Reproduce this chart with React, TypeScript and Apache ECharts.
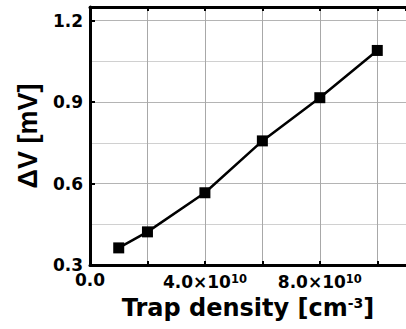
import React, { useEffect, useRef } from "react";
import * as echarts from "echarts";

const trapDensity = [1e10, 2e10, 4e10, 6e10, 8e10, 1e11];
const deltaV = [0.363, 0.422, 0.566, 0.757, 0.916, 1.09];
const xTitle = "Trap density [cm";
const yTitle = "ΔV [mV]";

export default function App() {
  const ref = useRef<HTMLDivElement>(null);
  useEffect(() => {
    if (!ref.current) return;
    const chart = echarts.init(ref.current, undefined, { renderer: "svg" });
    const font = "'DejaVu Sans', sans-serif";
    const fontY = "'Liberation Sans', Arial, sans-serif";
    const xFormatter = (v: number) => {
      if (Math.abs(v) < 1) return "{z|0.0}";
      const k = Math.round(v / 1e10);
      if (k % 4 !== 0) return "";
      return `{e| }\n{a|${k.toFixed(1)}×10}{s|10}`;
    };
    chart.setOption({
      animation: false,
      grid: { left: 90, top: 7, bottom: 64, right: -6 },
      xAxis: [
        {
          type: "value",
          min: 0,
          max: 1.1e11,
          interval: 2e10,
          axisLine: { show: true, onZero: false, lineStyle: { color: "#000", width: 3 } },
          axisTick: { show: true, inside: true, length: 4, lineStyle: { color: "#000", width: 2 } },
          splitLine: { show: true, lineStyle: { color: "#a8a8a8", width: 1 } },
          axisLabel: {
            formatter: xFormatter,
            margin: 6,
            color: "#000",
            fontFamily: font,
            fontWeight: "bold",
            fontSize: 17,
            rich: {
              e: { fontFamily: font, fontSize: 2, color: "rgba(0,0,0,0)", lineHeight: 2, verticalAlign: "top" },
              a: { fontFamily: font, fontWeight: "bold", fontSize: 17, color: "#000", lineHeight: 20, verticalAlign: "top" },
              s: { fontFamily: font, fontWeight: "bold", fontSize: 11.5, color: "#000", lineHeight: 8, verticalAlign: "top" },
              z: { fontFamily: font, fontWeight: "bold", fontSize: 17, color: "#000", lineHeight: 20, verticalAlign: "top" },
            },
            showMaxLabel: false,
          },
          name: `{t|${xTitle}}{s|-3}{t|]}`,
          nameLocation: "middle",
          nameGap: 31,
          nameMoveOverlap: false,
          nameTextStyle: {
            rich: {
              t: { fontFamily: font, fontWeight: "bold", fontSize: 24, color: "#000" },
              s: { fontFamily: font, fontWeight: "bold", fontSize: 14, color: "#000", padding: [0, 0, 10, 0] },
            },
          },
        },
        {
          type: "value",
          position: "top",
          min: 0,
          max: 1.1e11,
          interval: 2e10,
          axisLine: { show: true, onZero: false, lineStyle: { color: "#000", width: 3 } },
          axisTick: { show: true, inside: true, length: 4, lineStyle: { color: "#000", width: 2 } },
          splitLine: { show: false },
          axisLabel: { show: false },
        },
      ],
      yAxis: {
        type: "value",
        min: 0.3,
        max: 1.25,
        interval: 0.3,
        axisLine: { show: true, onZero: false, lineStyle: { color: "#000", width: 3 } },
        axisTick: { show: true, inside: true, length: 5, lineStyle: { color: "#000", width: 2 } },
        splitLine: { show: true, lineStyle: { color: "#b4b4b4", width: 1 } },
        minorTick: { show: false, splitNumber: 2 },
        minorSplitLine: { show: true, lineStyle: { color: "#d0d0d0", width: 1 } },
        axisLabel: {
          formatter: (v: number) => v.toFixed(1),
          color: "#000",
          fontFamily: font,
          fontWeight: "bold",
          fontSize: 17,
          margin: 7,
          showMaxLabel: false,
        },
        name: yTitle,
        nameLocation: "middle",
        nameGap: 42,
        nameTextStyle: { fontFamily: fontY, fontWeight: "bold", fontSize: 27, color: "#000" },
      },
      series: [
        {
          type: "line",
          data: trapDensity.map((x, i) => [x, deltaV[i]]),
          symbol: "rect",
          symbolSize: 11,
          itemStyle: { color: "#000" },
          lineStyle: { color: "#000", width: 2.5 },
        },
      ],
    });
    return () => chart.dispose();
  }, []);
  return <div ref={ref} style={{ width: 406, height: 329, position: "absolute", left: 0, top: 0 }} />;
}
